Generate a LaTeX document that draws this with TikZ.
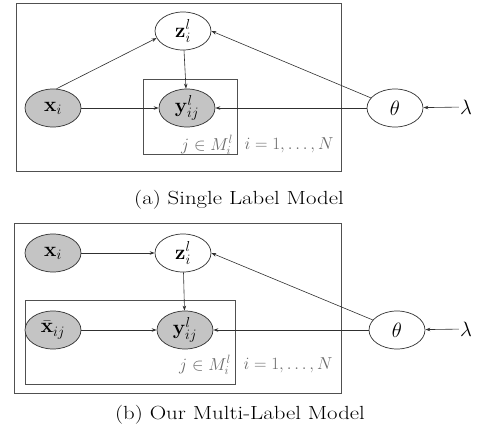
\documentclass[tikz,border=0pt]{standalone}
\usepackage{amsmath}
\usepackage{graphicx}
\usetikzlibrary{arrows.meta,shapes.geometric}
\definecolor{boxc}{HTML}{505050}
\definecolor{edgec}{HTML}{303030}
\definecolor{shade}{HTML}{C4C4C4}
\definecolor{labc}{HTML}{6A6A6A}
\begin{document}
\begin{tikzpicture}[x=1pt,y=-1pt,
  var/.style={ellipse,draw=edgec,line width=0.7pt,minimum width=56pt,minimum height=38pt,inner sep=0pt,font=\fontsize{20}{24}\selectfont},
  obs/.style={var,fill=shade},
  plate/.style={draw=boxc,line width=0.9pt},
  edge/.style={draw=edgec,line width=0.6pt,-{Stealth[length=5pt,width=3.5pt]}},
  lab/.style={text=labc,font=\fontsize{17}{20}\selectfont,inner sep=0pt},
  captxt/.style={font=\fontsize{19}{22}\selectfont,inner sep=0pt}]
\useasboundingbox (0,0) rectangle (477,433);
% ---------- panel (a) ----------
\draw[plate] (16,3) rectangle (341,171);
\draw[plate] (143,79) rectangle (237,154);
\node[var] (za) at (183,31) {$\mathbf{z}_i^l$};
\node[obs] (xa) at (53,108) {$\mathbf{x}_i$};
\node[obs] (ya) at (187,108) {$\mathbf{y}_{ij}^l$};
\node[var] (ta) at (395,108) {$\theta$};
\node[inner sep=1pt,font=\fontsize{20}{24}\selectfont] (la) at (466,107) {$\lambda$};
\node[lab] (ja) at (207,145) {$j\in M_i^l$};
\node[lab] (na) at (289,145) {$i=1,\ldots,N$};
\draw[edge] (xa.80) -- (za.195);
\draw[edge] (xa) -- (ya);
\draw[edge] (za) -- (ya);
\draw[edge] (ta) -- (ya);
\draw[edge] (ta) -- (za.east);
\draw[edge] (la) -- (ta);
\node[captxt] (capa) at (239,200) {\scalebox{1.2}[1]{(a) Single Label Model}};
% ---------- panel (b) ----------
\draw[plate] (14,223) rectangle (341,393);
\draw[plate] (25,300) rectangle (235,384);
\node[obs] (xb) at (53,253) {$\mathbf{x}_i$};
\node[var] (zb) at (183,253) {$\mathbf{z}_i^l$};
\node[obs] (xbb) at (53,330) {$\bar{\mathbf{x}}_{ij}$};
\node[obs] (yb) at (185,330) {$\mathbf{y}_{ij}^l$};
\node[var] (tb) at (397,330) {$\theta$};
\node[inner sep=1pt,font=\fontsize{20}{24}\selectfont] (lb) at (466,329) {$\lambda$};
\node[lab] (jb) at (205,365) {$j\in M_i^l$};
\node[lab] (nb) at (288,365) {$i=1,\ldots,N$};
\draw[edge] (xb) -- (zb);
\draw[edge] (zb) -- (yb);
\draw[edge] (xbb) -- (yb);
\draw[edge] (tb) -- (yb);
\draw[edge] (tb) -- (zb.east);
\draw[edge] (lb) -- (tb);
\node[captxt] (capb) at (240,415) {\scalebox{1.2}[1]{(b) Our Multi-Label Model}};
\end{tikzpicture}
\end{document}
